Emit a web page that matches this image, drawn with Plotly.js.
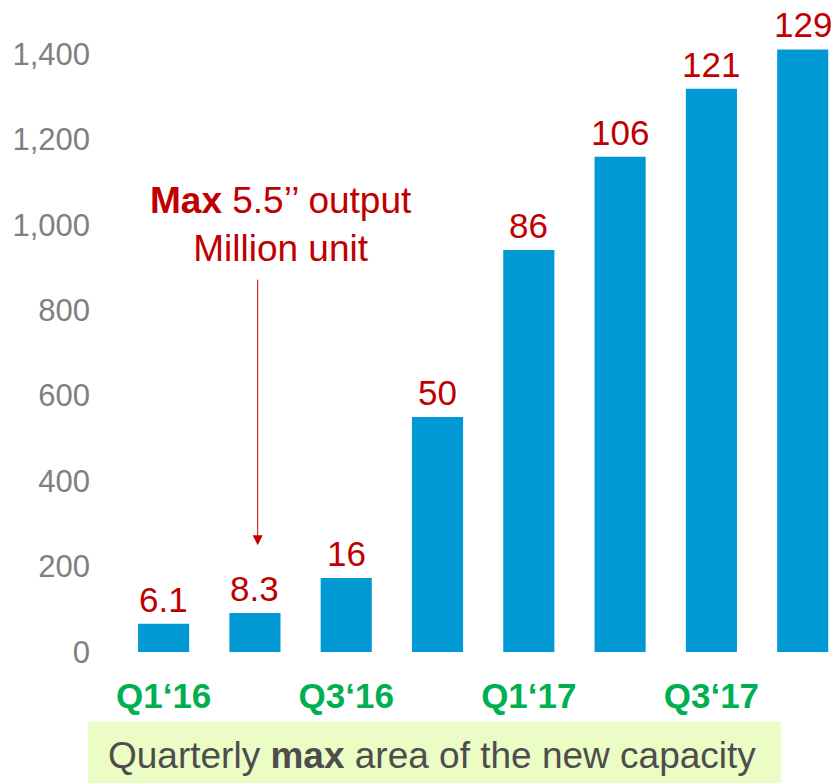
<!DOCTYPE html>
<html>
<head>
<meta charset="utf-8">
<script src="https://cdn.plot.ly/plotly-3.0.1.min.js"></script>
<style>
  html, body { margin: 0; padding: 0; background: #ffffff; }
  #chart { width: 831px; height: 783px; }
</style>
</head>
<body>
<div id="chart"></div>
<script>
// Quarterly max area of new capacity, with max 5.5" output labels
const quarters = ["Q1‘16", "Q2‘16", "Q3‘16", "Q4‘16", "Q1‘17", "Q2‘17", "Q3‘17", "Q4‘17"];
const areaValues = [66, 91, 173, 550, 941, 1159, 1318, 1410];
const outputLabels = ["6.1", "8.3", "16", "50", "86", "106", "121", "129"];
const shownTicks = ["Q1‘16", "Q3‘16", "Q1‘17", "Q3‘17"];
const yTicks = [0, 200, 400, 600, 800, 1000, 1200, 1400];

const FONT = "Liberation Sans, Arial, sans-serif";
const RED = "#c00000";

const trace = {
  type: "bar",
  x: quarters,
  y: areaValues,
  marker: { color: "#0099d3", line: { width: 0 } },
  hoverinfo: "skip"
};

// value labels above each bar
const labelNotes = quarters.map((q, i) => ({
  x: q,
  y: areaValues[i],
  xref: "x",
  yref: "y",
  text: outputLabels[i],
  showarrow: false,
  yanchor: "bottom",
  yshift: 3,
  font: { family: FONT, size: 35, color: RED }
}));

const layout = {
  width: 831,
  height: 783,
  margin: { l: 118, r: 0, t: 11, b: 131 },
  paper_bgcolor: "#ffffff",
  plot_bgcolor: "#ffffff",
  showlegend: false,
  bargap: 0.44,
  xaxis: {
    type: "category",
    range: [-0.5, 7.31],
    tickvals: shownTicks,
    ticktext: shownTicks,
    showgrid: false,
    showline: false,
    zeroline: false,
    ticks: "",
    ticklabelstandoff: 20,
    tickfont: { family: FONT, size: 35, color: "#00b050", weight: "bold" }
  },
  yaxis: {
    range: [0, 1500],
    tickvals: yTicks,
    tickformat: ",d",
    showgrid: false,
    showline: false,
    zeroline: false,
    ticks: "",
    ticklabelstandoff: 27,
    tickfont: { family: FONT, size: 31, color: "#808080" }
  },
  shapes: [
    {
      type: "rect",
      xref: "paper",
      yref: "paper",
      x0: -0.042,
      x1: 0.930,
      y0: -0.109,
      y1: -0.25,
      fillcolor: "#ebfcc5",
      line: { width: 0 },
      layer: "below"
    }
  ],
  annotations: labelNotes.concat([
    {
      x: 0.44,
      y: -0.162,
      xref: "paper",
      yref: "paper",
      xanchor: "center",
      yanchor: "middle",
      text: "Quarterly <b>max</b> area of the new capacity",
      showarrow: false,
      font: { family: FONT, size: 37, color: "#4d4d4d" }
    },
    {
      x: 1.29,
      y: 1000,
      xref: "x",
      yref: "y",
      text: "<b>Max</b> 5.5’’ output<br>Million unit",
      showarrow: false,
      align: "center",
      font: { family: FONT, size: 37, color: RED }
    },
    {
      x: 1.03,
      y: 250,
      xref: "x",
      yref: "y",
      ax: 0,
      ay: -267,
      text: "",
      showarrow: true,
      arrowhead: 2,
      arrowsize: 2,
      arrowwidth: 1,
      arrowcolor: RED
    }
  ])
};

Plotly.newPlot("chart", [trace], layout, { displayModeBar: false, staticPlot: true });
</script>
</body>
</html>
